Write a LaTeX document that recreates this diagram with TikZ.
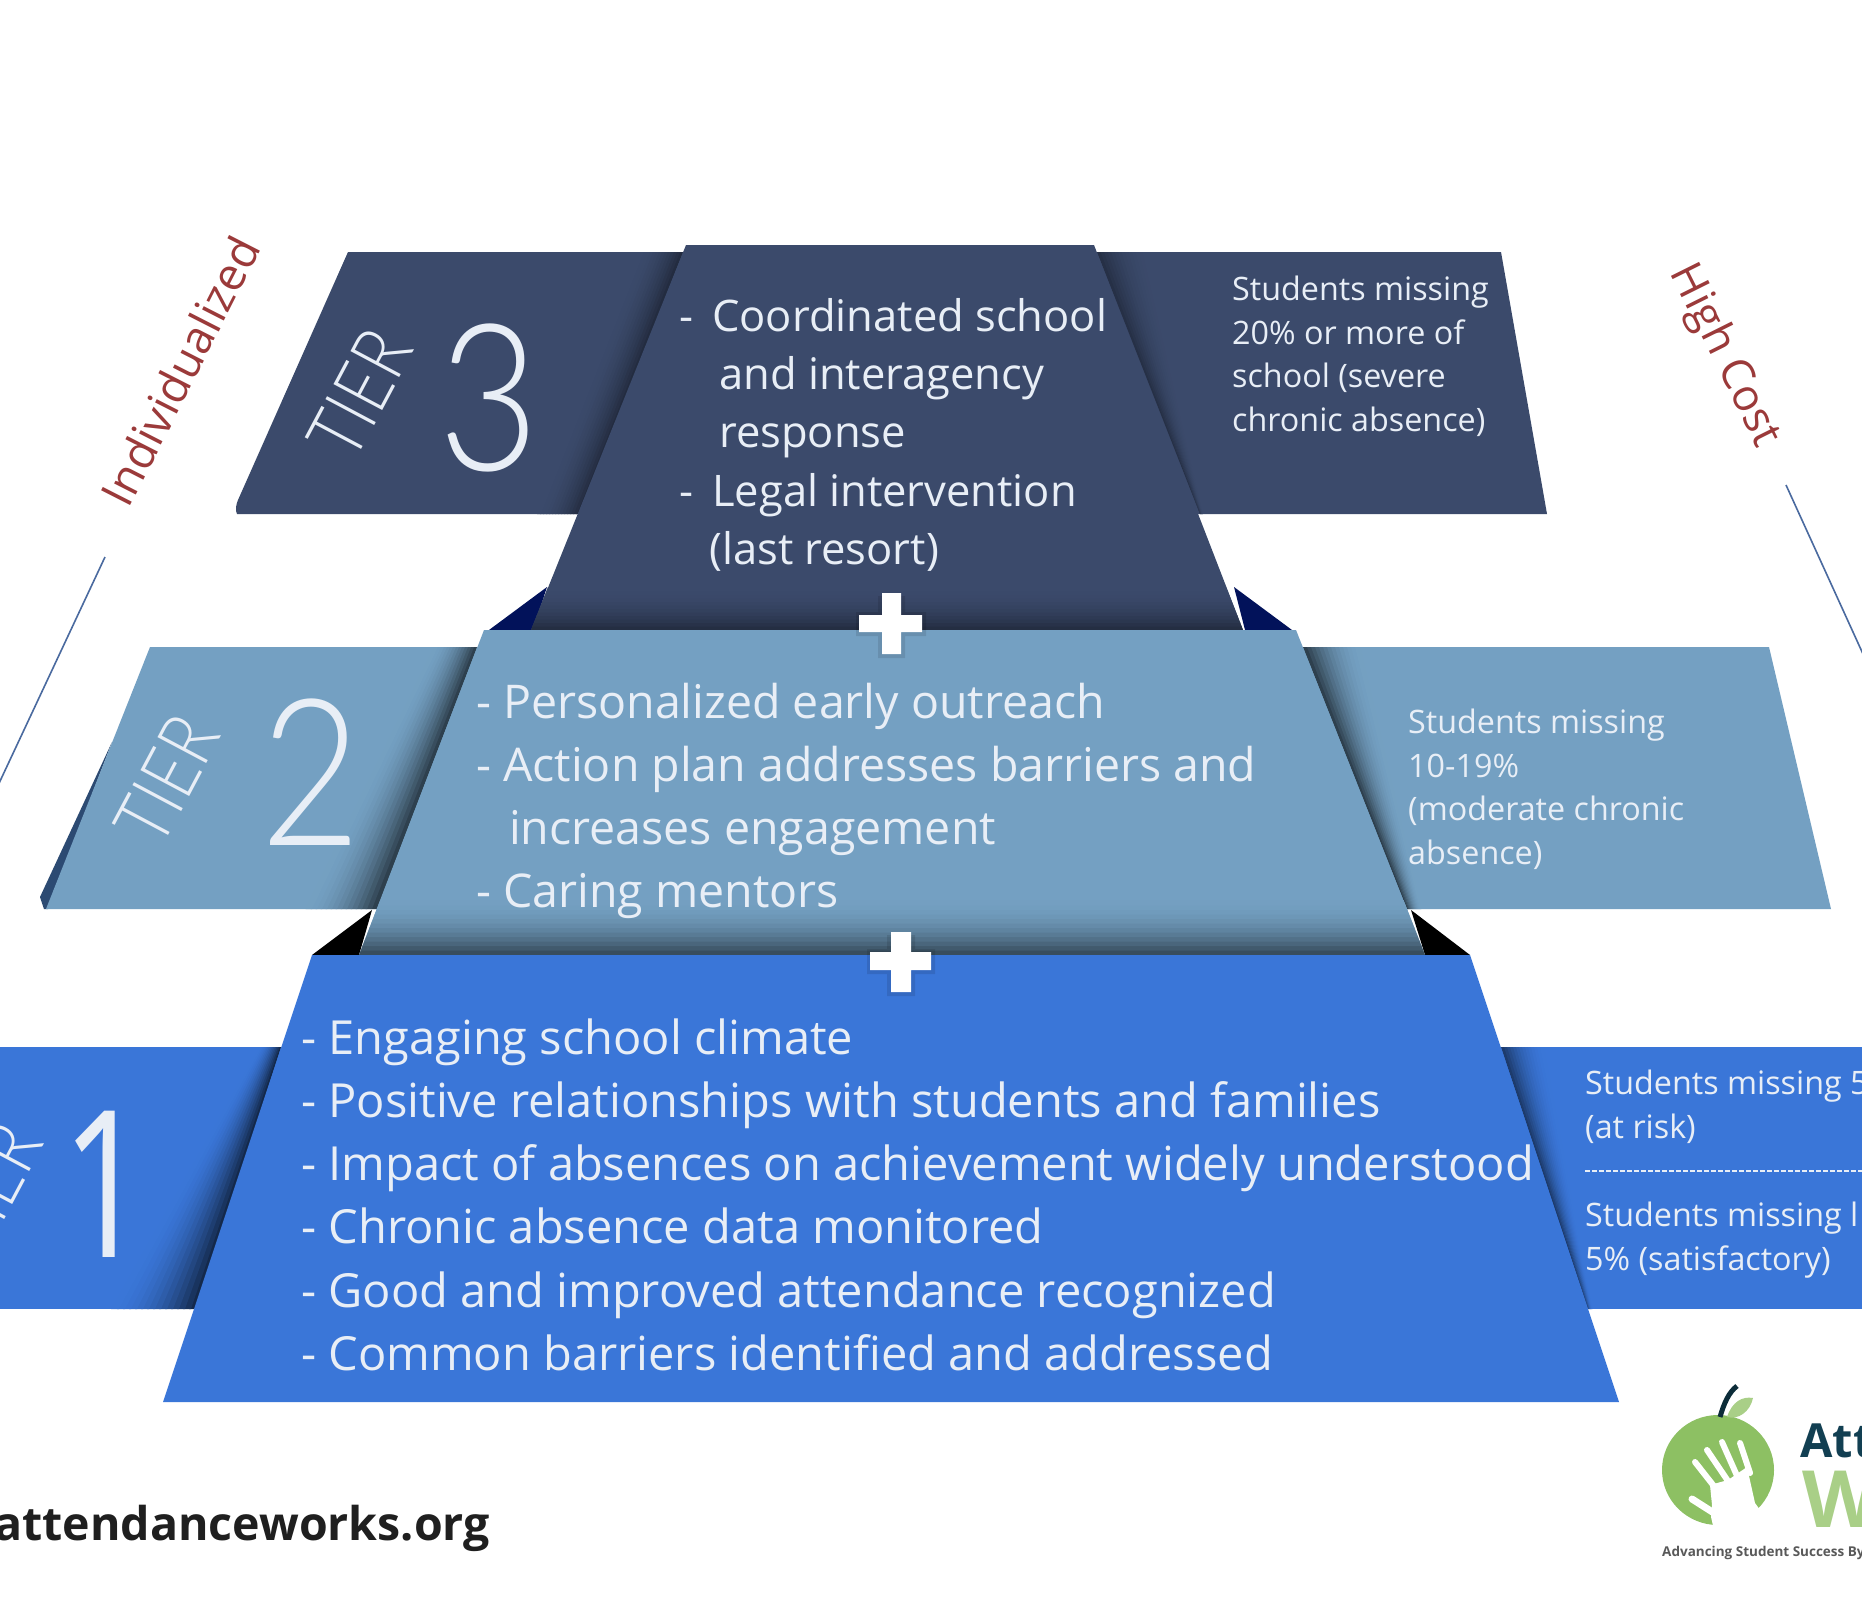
\documentclass[tikz,border=0pt]{standalone}
\usepackage{fontspec}
\usepackage{graphicx}
\setmainfont{Open Sans}
\newfontfamily\thinf{Lato Light}
\definecolor{tthree}{HTML}{3B4A6B}
\definecolor{ttwo}{HTML}{74A0C2}
\definecolor{tone}{HTML}{3A76D8}
\definecolor{redlbl}{HTML}{9B3A3A}
\definecolor{linec}{HTML}{4A6A9F}
\definecolor{navytri}{HTML}{02125A}
\definecolor{applegr}{HTML}{8DC063}
\definecolor{leafgr}{HTML}{A9CF87}
\definecolor{attc}{HTML}{123F52}
\definecolor{txt}{HTML}{E8EEF6}
\definecolor{edgedark}{HTML}{2C4A72}
\tikzset{
 bodyone/.style={anchor=base west,inner sep=0pt,text=txt,font=\fontsize{47}{47}\selectfont},
 bodytwo/.style={anchor=base west,inner sep=0pt,text=txt,font=\fontsize{46.5}{47}\selectfont},
 bodythree/.style={anchor=base west,inner sep=0pt,text=txt,font=\fontsize{43.5}{47}\selectfont},
 sidetext/.style={anchor=base west,inner sep=0pt,text=txt,font=\fontsize{32.3}{32}\selectfont},
 numtext/.style={inner sep=0pt,text=txt,font=\thinf\fontsize{205}{205}\selectfont},
 tiertext/.style={inner sep=0pt,text=txt,rotate=62,font=\thinf\fontsize{78}{78}\selectfont},
 sidelbl/.style={inner sep=0pt,text=redlbl},
 guide/.style={draw=linec,line width=1.6pt},
}
% strip shadow along a slanted edge: top x,y; bottom x,y; step at top; step at bottom; colour; dark; max mix
\newcommand{\edgeshadow}[9]{%
 \foreach \k in {0,...,13}{%
  \pgfmathsetmacro{\mixv}{#9*(1-\k/14)*(1-\k/14)}%
  \fill[#8!\mixv!#7] ({#1+\k*#5},#2) -- ({#1+(\k+1.3)*#5},#2) -- ({#3+(\k+1.3)*#6},#4) -- ({#3+\k*#6},#4) -- cycle;
 }}
\newcommand{\bottomshadow}[8]{%
 \foreach \k in {0,...,11}{%
  \pgfmathsetmacro{\mixv}{#8*(1-\k/12)*(1-\k/12)}%
  \pgfmathsetmacro{\ya}{#4-\k*#5}\pgfmathsetmacro{\yb}{#4-(\k+1)*#5-1}%
  \pgfmathsetmacro{\xla}{#1-(\ya-#4)*#3}\pgfmathsetmacro{\xlb}{#1-(\yb-#4)*#3}%
  \pgfmathsetmacro{\xra}{#2+(\ya-#4)*#3}\pgfmathsetmacro{\xrb}{#2+(\yb-#4)*#3}%
  \fill[#7!\mixv!#6] (\xla,\ya) -- (\xlb,\yb) -- (\xrb,\yb) -- (\xra,\ya) -- cycle;
 }}
\begin{document}
\begin{tikzpicture}[x=1pt,y=-1pt]
\useasboundingbox (0,0) rectangle (1862,1600);
\fill[white] (0,0) rectangle (1862,1600);

% guide lines
\coordinate (gla) at (105,557);
\coordinate (glb) at (-6,794);
\coordinate (gra) at (1786,485);
\coordinate (grb) at (1868,665);
\draw[guide] (gla) -- (glb);
\draw[guide] (gra) -- (grb);
\node[sidelbl,rotate=63,font=\fontsize{45.5}{46}\selectfont] (indiv) at (180,371) {Individualized};
\node[sidelbl,rotate=-63.5,font=\fontsize{44}{44}\selectfont] (hcost) at (1724,356) {High Cost};

% tier 1 band
\fill[tone] (-5,1047) -- (1867,1047) -- (1867,1309) -- (-5,1309) -- cycle;
\edgeshadow{281}{1047}{197}{1309}{-1.5}{-6}{tone}{black}{65}
\edgeshadow{1501}{1047}{1588}{1309}{3}{0.3}{tone}{black}{50}
% tier 2 band
\fill[edgedark] (112,742) -- (40,897) -- (44,909) -- (48,909) -- cycle;
\fill[ttwo] (150,647) -- (1769,647) -- (1831,909) -- (46,909) -- cycle;
\edgeshadow{477}{647}{377}{909}{-3}{-5}{ttwo}{black}{60}
\edgeshadow{1303}{647}{1407}{909}{4}{1}{ttwo}{black}{60}
% tier 3 band
\fill[tthree] (348,252) -- (1501,252) -- (1547,514) -- (237,514) .. controls (235,510) and (236,505) .. (238,500) -- cycle;
\edgeshadow{683}{252}{580}{514}{-3}{-3}{tthree}{black}{40}
\edgeshadow{1097}{252}{1200}{514}{3.5}{0.2}{tthree}{black}{35}

% black / navy corner triangles
\fill[navytri] (547,587) -- (489,630) -- (533,630) -- cycle;
\fill[navytri] (1234,587) -- (1292,630) -- (1245,630) -- cycle;
\fill[black] (372,910) -- (312,955) -- (359,955) -- cycle;
\fill[black] (1411,910) -- (1470,955) -- (1425,955) -- cycle;

% centres
\fill[tthree] (686,245) -- (1094,245) -- (1243,630) -- (531,630) -- cycle;
\bottomshadow{531}{1243}{0.395}{630}{3.5}{tthree}{black}{38}
\fill[ttwo] (484,630) -- (1296,630) -- (1425,955) -- (359,955) -- cycle;
\bottomshadow{359}{1425}{0.39}{955}{4.5}{ttwo}{black}{52}
\fill[tone] (312,955) -- (1470,955) -- (1619,1402) -- (163,1402) -- cycle;

% plus signs
\fill[black,opacity=.1] (878,596) rectangle (905,658) (856,612) rectangle (926,636);
\fill[white] (882,593) rectangle (901,654) (859,615) rectangle (922,632);
\fill[black,opacity=.1] (887,935) rectangle (915,996) (867,949) rectangle (935,974);
\fill[white] (891,932) rectangle (911,992) (870,952) rectangle (931,970);

% tier labels
\node[tiertext] (t3) at (360,394) {\scalebox{.83}[1]{TIER}};
\node[numtext] (n3) at (489,398) {\scalebox{.85}[1]{3}};
\node[tiertext] (t2) at (167,780) {\scalebox{.83}[1]{TIER}};
\node[numtext] (n2) at (311,772) {\scalebox{.85}[1]{2}};
\node[tiertext] (t1) at (-10,1188) {\scalebox{.83}[1]{TIER}};
\node[numtext,font=\fontsize{205}{205}\selectfont] (n1) at (105,1184) {\scalebox{.75}[1]{1}};

% tier 3 text
\node[bodythree] (c3a) at (679,331) {-};
\node[bodythree] (c3b) at (712,331) {Coordinated school};
\node[bodythree] (c3c) at (719,389) {and interagency};
\node[bodythree] (c3d) at (719,447) {response};
\node[bodythree] (c3e) at (679,506) {-};
\node[bodythree] (c3f) at (712,506) {Legal intervention};
\node[bodythree] (c3g) at (709,564) {(last resort)};
% tier 2 text
\node[bodytwo] (c2a) at (476,718) {- Personalized early outreach};
\node[bodytwo] (c2b) at (476,781) {- Action plan addresses barriers and};
\node[bodytwo] (c2c) at (509,844) {increases engagement};
\node[bodytwo] (c2d) at (476,907) {- Caring mentors};
% tier 1 text
\node[bodyone] (c1a) at (301,1054) {- Engaging school climate};
\node[bodyone] (c1b) at (301,1117) {- Positive relationships with students and families};
\node[bodyone] (c1c) at (301,1180) {- Impact of absences on achievement widely understood};
\node[bodyone] (c1d) at (301,1243) {- Chronic absence data monitored};
\node[bodyone] (c1e) at (301,1307) {- Good and improved attendance recognized};
\node[bodyone] (c1f) at (301,1370) {- Common barriers identified and addressed};
% side text
\node[sidetext] (s3a) at (1232,300) {Students missing};
\node[sidetext] (s3b) at (1232,344) {20\% or more of};
\node[sidetext] (s3c) at (1232,387) {school (severe};
\node[sidetext] (s3d) at (1232,431) {chronic absence)};
\node[sidetext] (s2a) at (1408,733) {Students missing};
\node[sidetext] (s2b) at (1408,777) {10-19\%};
\node[sidetext] (s2c) at (1408,820) {(moderate chronic};
\node[sidetext] (s2d) at (1408,864) {absence)};
\node[sidetext] (s1a) at (1585,1094) {Students missing 5};
\node[sidetext] (s1b) at (1585,1138) {(at risk)};
\coordinate (dsa) at (1585,1171);
\coordinate (dsb) at (1862,1171);
\draw[txt,line width=1.4pt,dash pattern=on 5pt off 2pt] (dsa) -- (dsb);
\node[sidetext] (s1c) at (1585,1226) {Students missing l};
\node[sidetext] (s1d) at (1585,1270) {5\% (satisfactory)};

% website
\node[anchor=base west,inner sep=0pt,text=black!88,font=\bfseries\fontsize{46.5}{47}\selectfont] (web) at (-6,1540) {attendanceworks.org};

% logo
\fill[applegr] (1718,1470) ellipse [x radius=56,y radius=55];
\fill[leafgr] (1727,1417) .. controls (1732,1402) and (1742,1396) .. (1753,1398) .. controls (1750,1412) and (1738,1420) .. (1727,1417) -- cycle;
\draw[attc!70!black,line width=5pt] (1720,1417) .. controls (1724,1403) and (1729,1392) .. (1737,1386);
\fill[white] (1712,1505) -- (1710,1485) -- (1728,1480) -- (1747,1467) -- (1755,1503) -- (1760,1510) -- (1748,1530) -- (1714,1530) -- (1711,1517) -- cycle;
\draw[white,line width=6pt,line cap=round] (1695,1462) -- (1717,1490);
\draw[white,line width=6pt,line cap=round] (1707,1450) -- (1730,1484);
\draw[white,line width=6pt,line cap=round] (1722,1442) -- (1738,1478);
\draw[white,line width=6pt,line cap=round] (1740,1443) -- (1750,1473);
\draw[white,line width=7pt,line cap=round] (1692,1499) -- (1714,1513);
\node[anchor=base west,inner sep=0pt,text=attc,font=\bfseries\fontsize{47}{47}\selectfont] (att) at (1800,1457) {Att};
\node[anchor=base west,inner sep=0pt,text=leafgr,font=\bfseries\fontsize{79}{79}\selectfont] (wks) at (1802,1527) {W};
\node[anchor=base west,inner sep=0pt,text=black!65,font=\bfseries\fontsize{13.5}{13.5}\selectfont] (tag) at (1662,1556) {Advancing Student Success By};
\end{tikzpicture}
\end{document}
